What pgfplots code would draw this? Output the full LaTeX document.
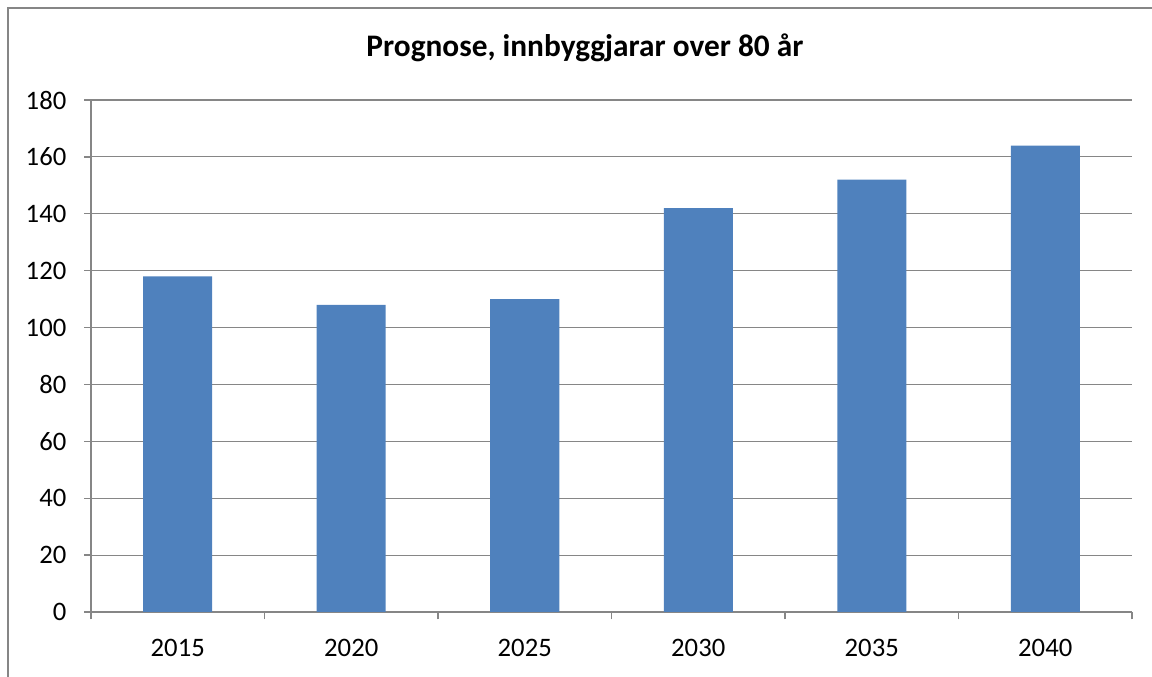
\documentclass[border=0pt]{standalone}
\usepackage{pgfplots}
\pgfplotsset{compat=1.18}
\usepackage{fontspec}
\setmainfont{Carlito}
\definecolor{barblue}{HTML}{4F81BD}
\definecolor{axgray}{HTML}{868686}
\begin{document}
\begin{tikzpicture}
\useasboundingbox (0pt,0pt) rectangle (864pt,507.75pt);
\draw[axgray,line width=1.6pt] (6pt,0pt) -- (6pt,501.75pt) -- (864pt,501.75pt);
\node[font=\bfseries\fontsize{23.5}{26}\selectfont] at (438.75pt,471.75pt) {Prognose, innbyggjarar over 80 år};
\begin{axis}[
  at={(133.31pt,48.75pt)}, anchor=origin,
  scale only axis, width=780.75pt, height=384pt,
  xmin=-0.5, xmax=5.5, ymin=0, ymax=180,
  ytick={0,20,...,180},
  xtick={0,...,5},
  xticklabels={2015,2020,2025,2030,2035,2040},
  minor xtick={-0.5,0.5,...,5.5},
  axis x line*=bottom, axis y line*=left,
  axis line style={axgray,line width=1pt,-},
  tick align=outside,
  major x tick style={draw=none},
  minor x tick style={axgray,line width=1pt},
  major y tick style={axgray,line width=1pt},
  major tick length=5pt,
  minor tick length=5.5pt,
  ymajorgrids, grid style={axgray,line width=0.9pt},
  tick label style={font=\fontsize{20}{24}\selectfont},
  /pgf/number format/assume math mode=true,
  yticklabel style={xshift=-10pt},
  xticklabel style={yshift=-12pt},
  ybar, bar width=51.75pt,
]
\addplot[fill=barblue, draw=none] coordinates {(0,118) (1,108) (2,110) (3,142) (4,152) (5,164)};
\end{axis}
\end{tikzpicture}
\end{document}
